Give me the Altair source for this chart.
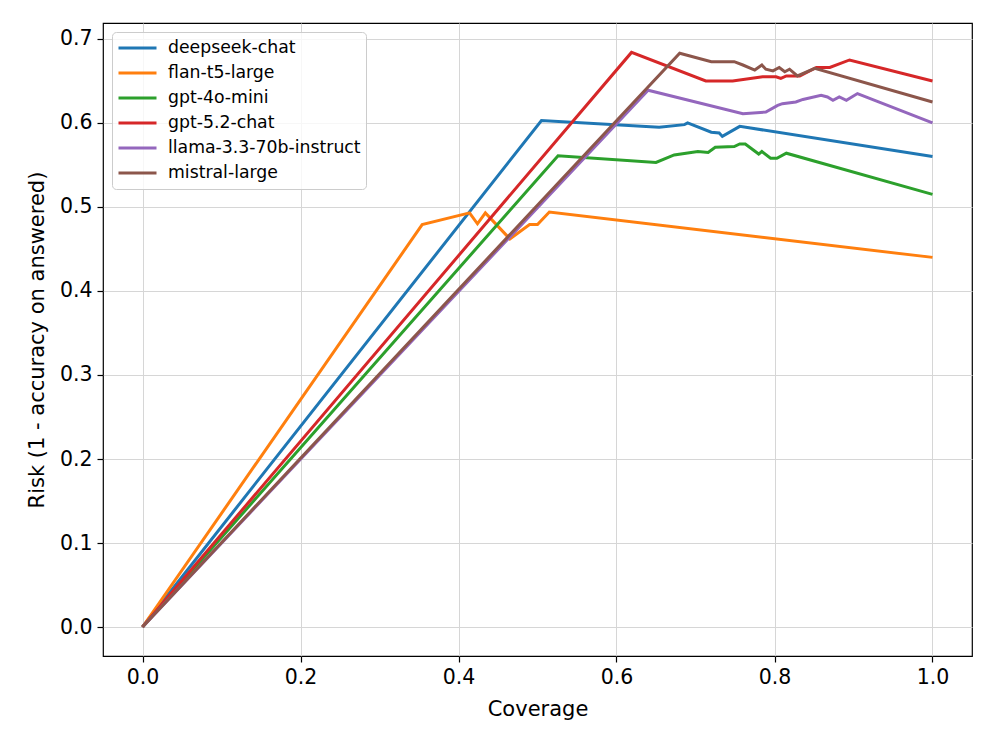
import altair as alt
import pandas as pd

models = ["deepseek-chat", "flan-t5-large", "gpt-4o-mini", "gpt-5.2-chat",
          "llama-3.3-70b-instruct", "mistral-large"]
colors = ["#1f77b4", "#ff7f0e", "#2ca02c", "#d62728", "#9467bd", "#8c564b"]

deepseek_cov = [0.0, 0.505, 0.654, 0.686, 0.690, 0.720, 0.730, 0.734, 0.756, 1.0]
deepseek_risk = [0.0, 0.603, 0.595, 0.598, 0.600, 0.589, 0.588, 0.584, 0.596, 0.560]

flan_cov = [0.0, 0.354, 0.414, 0.424, 0.434, 0.465, 0.490, 0.500, 0.515, 1.0]
flan_risk = [0.0, 0.479, 0.493, 0.480, 0.493, 0.462, 0.479, 0.479, 0.494, 0.440]

gpt4o_cov = [0.0, 0.526, 0.650, 0.673, 0.703, 0.716, 0.725, 0.749, 0.756, 0.763,
             0.780, 0.784, 0.795, 0.803, 0.815, 1.0]
gpt4o_risk = [0.0, 0.561, 0.553, 0.562, 0.566, 0.565, 0.571, 0.572, 0.575, 0.575,
              0.563, 0.566, 0.558, 0.558, 0.564, 0.515]

gpt52_cov = [0.0, 0.619, 0.713, 0.747, 0.785, 0.802, 0.808, 0.815, 0.832, 0.853,
             0.870, 0.895, 1.0]
gpt52_risk = [0.0, 0.684, 0.650, 0.650, 0.655, 0.655, 0.653, 0.656, 0.656, 0.666,
              0.666, 0.675, 0.650]

llama_cov = [0.0, 0.640, 0.760, 0.789, 0.804, 0.810, 0.827, 0.836, 0.859, 0.867,
             0.874, 0.882, 0.891, 0.905, 1.0]
llama_risk = [0.0, 0.639, 0.611, 0.613, 0.621, 0.623, 0.625, 0.628, 0.633, 0.631,
              0.627, 0.631, 0.627, 0.635, 0.600]

mistral_cov = [0.0, 0.680, 0.720, 0.749, 0.760, 0.775, 0.784, 0.789, 0.798, 0.806,
               0.813, 0.819, 0.829, 0.851, 1.0]
mistral_risk = [0.0, 0.683, 0.673, 0.673, 0.669, 0.663, 0.669, 0.664, 0.662, 0.666,
                0.661, 0.664, 0.656, 0.665, 0.625]

series = [
    (models[0], deepseek_cov, deepseek_risk),
    (models[1], flan_cov, flan_risk),
    (models[2], gpt4o_cov, gpt4o_risk),
    (models[3], gpt52_cov, gpt52_risk),
    (models[4], llama_cov, llama_risk),
    (models[5], mistral_cov, mistral_risk),
]

rows = []
for name, cov, risk in series:
    for i, (c, r) in enumerate(zip(cov, risk)):
        rows.append({"model": name, "coverage": c, "risk": r, "idx": i})
df = pd.DataFrame(rows)

FONT = "DejaVu Sans"

chart = alt.Chart(df).mark_line(strokeWidth=3, clip=True).encode(
    x=alt.X("coverage:Q",
            scale=alt.Scale(domain=[-0.05, 1.05], nice=False, zero=False),
            axis=alt.Axis(title="Coverage", values=[0, 0.2, 0.4, 0.6, 0.8, 1.0],
                          format=".1f", tickSize=6, labelPadding=5, titlePadding=11)),
    y=alt.Y("risk:Q",
            scale=alt.Scale(domain=[-0.0345, 0.719], nice=False, zero=False),
            axis=alt.Axis(title="Risk (1 - accuracy on answered)",
                          values=[0, 0.1, 0.2, 0.3, 0.4, 0.5, 0.6, 0.7],
                          format=".1f", tickSize=6, labelPadding=5, titlePadding=12)),
    color=alt.Color("model:N",
                    scale=alt.Scale(domain=models, range=colors),
                    legend=alt.Legend(title=None, orient="none", legendX=9, legendY=9,
                                      symbolType="stroke", symbolSize=1444,
                                      symbolStrokeWidth=3, clipHeight=22, rowPadding=3,
                                      labelFontSize=17.3, labelFont=FONT,
                                      labelColor="black", labelOffset=10, labelLimit=0,
                                      padding=5, fillColor="rgba(255,255,255,0.8)",
                                      strokeColor="#cccccc", cornerRadius=4)),
    order=alt.Order("idx:Q"),
).properties(
    width=869, height=633,
    autosize=alt.AutoSizeParams(type="none"),
    padding={"left": 95, "top": 15, "right": 16, "bottom": 83},
).configure_view(
    stroke="black", strokeWidth=1.2
).configure_axis(
    grid=True, gridColor="#d6d6d6", gridWidth=1,
    domain=False, tickColor="black", tickWidth=1.2,
    labelFont=FONT, titleFont=FONT, labelFontSize=20.5, titleFontSize=21,
    labelColor="black", titleColor="black", titleFontWeight="normal",
)

chart.save("out.html", embed_options={"renderer": "svg", "actions": False})
